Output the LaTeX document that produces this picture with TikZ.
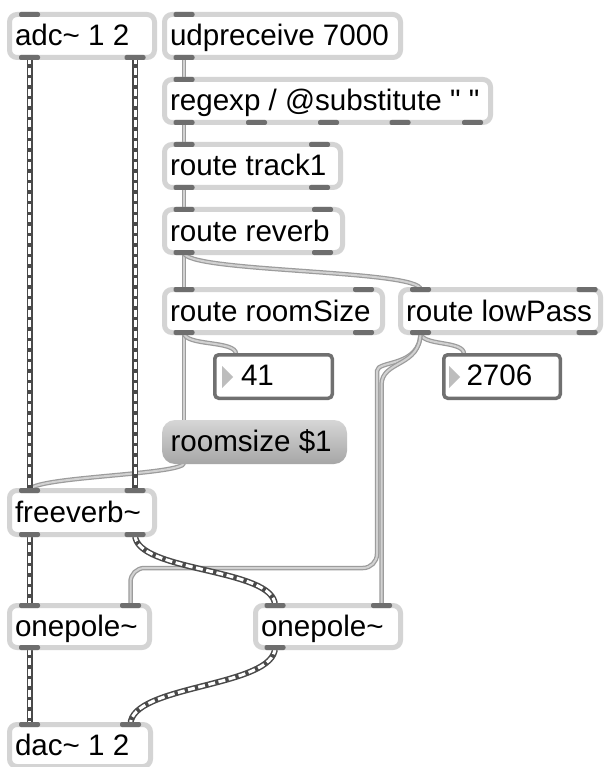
\documentclass[tikz,border=0pt]{standalone}
\usepackage{fontspec}
\setmainfont{Liberation Sans}[Ligatures=TeXOff]
\usetikzlibrary{backgrounds,calc}
\definecolor{objborder}{HTML}{D4D4D4}
\definecolor{tabgray}{HTML}{6E6E6E}
\definecolor{numborder}{HTML}{707070}
\definecolor{trigray}{HTML}{BDBDBD}
\definecolor{cordouter}{HTML}{9C9C9C}
\definecolor{cordinner}{HTML}{D2D2D2}
\definecolor{sigouter}{HTML}{4A4A4A}
\definecolor{msgtop}{HTML}{D6D6D6}
\definecolor{msgbot}{HTML}{A6A6A6}
\tikzset{
  obj/.style={rectangle, draw=objborder, line width=5pt, fill=white, rounded corners=7.5pt, inner sep=0pt, outer sep=0pt},
  tab/.style={rectangle, fill=tabgray, minimum width=21pt, minimum height=5pt, inner sep=0pt, outer sep=0pt, rounded corners=2pt},
  lbl/.style={anchor=base west, inner sep=0pt, outer sep=0pt, font=\fontsize{29.6}{34}\selectfont},
  numbox/.style={rectangle, draw=numborder, line width=3.5pt, fill=white, rounded corners=4pt, inner sep=0pt, outer sep=0pt},
  msgbox/.style={rectangle, top color=msgtop, bottom color=msgbot, rounded corners=13pt, inner sep=0pt, outer sep=0pt},
  msgcord/.style={draw=cordouter, line width=4.5pt, postaction={draw=cordinner, line width=2pt}},
  sigcord/.style={draw=sigouter, line width=6pt, postaction={draw=white, line width=3pt, dash pattern=on 7pt off 3.5pt}}
}
\newcommand\maxobj[6]{%
  \node[obj, minimum width={#4-#2-5}, minimum height={#5-#3-5}] (#1) at ({(#2+#4)/2},{(#3+#5)/2}) {};
  \node[lbl] (#1-t) at ([xshift=5.5pt,yshift=-10pt]#1.west) {#6};}
\newcommand\maxtab[3]{\node[tab] (#1) at (#2,#3) {};}
\begin{document}
\begin{tikzpicture}[x=1pt,y=-1pt]
\useasboundingbox (0,0) rectangle (604,767);
% objects
\maxobj{adc}{7}{12}{157}{60}{adc\textasciitilde{} 1 2}
\maxobj{udp}{162}{12}{403}{60}{udpreceive 7000}
\maxobj{rx}{162}{77}{493}{125}{regexp / @substitute \symbol{34} \symbol{34}}
\maxobj{tr}{162}{142}{343}{190}{route track1}
\maxobj{rv}{162}{207}{345}{255}{route reverb}
\maxobj{rs}{162}{287}{385}{335}{route roomSize}
\maxobj{lp}{398}{287}{603}{335}{route lowPass}
\maxobj{fv}{7}{488}{157}{537}{freeverb\textasciitilde}
\maxobj{opl}{7}{603}{152}{650}{onepole\textasciitilde}
\maxobj{opr}{253}{603}{403}{650}{onepole\textasciitilde}
\maxobj{dac}{7}{722}{153}{769}{dac\textasciitilde{} 1 2}
% number boxes
\node[numbox, minimum width=117.5pt, minimum height=43.5pt] (n41) at (273.5,376.5) {};
\fill[trigray] (222,366) -- (233,377) -- (222,388) -- cycle;
\node[lbl] (n41-t) at (241,385.5) {41};
\node[numbox, minimum width=116.5pt, minimum height=43.5pt] (n2706) at (502,376.5) {};
\fill[trigray] (449,366) -- (460,377) -- (449,388) -- cycle;
\node[lbl] (n2706-t) at (466.5,385.5) {2706};
\coordinate (n41-in) at (236,354);
\coordinate (n2706-in) at (464,354);
% message box
\node[msgbox, minimum width=185pt, minimum height=44pt] (msg) at (254.5,442) {};
\node[lbl] (msg-t) at (170.5,451) {roomsize \$1};
\coordinate (msg-in) at (184,421);
\coordinate (msg-out) at (184,463);
% tabs
\maxtab{adc-i1}{29.5}{14.5}
\maxtab{adc-o1}{29.5}{57.5}
\maxtab{adc-o2}{135}{57.5}
\maxtab{udp-i1}{184}{14.5}
\maxtab{udp-o1}{184}{57.5}
\maxtab{rx-i1}{184}{79.5}
\maxtab{rx-o1}{184}{122.5}
\maxtab{rx-o2}{256.5}{122.5}
\maxtab{rx-o3}{328.5}{122.5}
\maxtab{rx-o4}{400}{122.5}
\maxtab{rx-o5}{472.5}{122.5}
\maxtab{tr-i1}{184}{144.5}
\maxtab{tr-i2}{319.5}{144.5}
\maxtab{tr-o1}{184}{187.5}
\maxtab{tr-o2}{319.5}{187.5}
\maxtab{rv-i1}{184}{209.5}
\maxtab{rv-i2}{322.5}{209.5}
\maxtab{rv-o1}{184}{252.5}
\maxtab{rv-o2}{322.5}{252.5}
\maxtab{rs-i1}{184}{289.5}
\maxtab{rs-i2}{363.5}{289.5}
\maxtab{rs-o1}{184}{332.5}
\maxtab{rs-o2}{363.5}{332.5}
\maxtab{lp-i1}{420.5}{289.5}
\maxtab{lp-i2}{587}{289.5}
\maxtab{lp-o1}{420.5}{332.5}
\maxtab{lp-o2}{587}{332.5}
\maxtab{fv-i1}{29.5}{490.5}
\maxtab{fv-i2}{135}{490.5}
\maxtab{fv-o1}{29.5}{534.5}
\maxtab{fv-o2}{135}{534.5}
\maxtab{opl-i1}{29.5}{605.5}
\maxtab{opl-i2}{130.5}{605.5}
\maxtab{opl-o1}{29.5}{647.5}
\maxtab{opr-i1}{275}{605.5}
\maxtab{opr-i2}{381.5}{605.5}
\maxtab{opr-o1}{275}{647.5}
\maxtab{dac-i1}{29.5}{724.5}
\maxtab{dac-i2}{130.5}{724.5}
% cords
\begin{pgfonlayer}{background}
\fill[white] (0,0) rectangle (604,767);
\draw[msgcord] (udp-o1.center) -- (rx-i1.center);
\draw[msgcord] (rx-o1.center) -- (tr-i1.center);
\draw[msgcord] (tr-o1.center) -- (rv-i1.center);
\draw[msgcord] (rv-o1.center) -- (rs-i1.center);
\draw[msgcord] (rv-o1.center) .. controls +(0,20) and +(0,-20) .. (lp-i1.center);
\draw[msgcord] (rs-o1.center) -- (msg-in);
\draw[msgcord] (rs-o1.center) .. controls +(0,14) and +(0,-14) .. (n41-in);
\draw[msgcord] (lp-o1.center) .. controls +(0,14) and +(0,-14) .. (n2706-in);
\draw[msgcord, rounded corners=14pt] (lp-o1.center) .. controls +(0,35) and +(0,-25) .. (377,385) -- (377,568) -- (130.5,568) -- (opl-i2.center);
\draw[msgcord] (lp-o1.center) .. controls +(0,35) and +(0,-25) .. (381.5,385) -- (opr-i2.center);
\draw[msgcord] (msg-out) .. controls +(0,12) and +(0,-14) .. (fv-i1.center);
\draw[sigcord] (adc-o1.center) -- (fv-i1.center);
\draw[sigcord] (adc-o2.center) -- (fv-i2.center);
\draw[sigcord] (fv-o1.center) -- (opl-i1.center);
\draw[sigcord] (opl-o1.center) -- (dac-i1.center);
\draw[sigcord] (fv-o2.center) .. controls +(0,38) and +(0,-38) .. (opr-i1.center);
\draw[sigcord] (opr-o1.center) .. controls +(0,40) and +(0,-40) .. (dac-i2.center);
\end{pgfonlayer}
\end{tikzpicture}
\end{document}
